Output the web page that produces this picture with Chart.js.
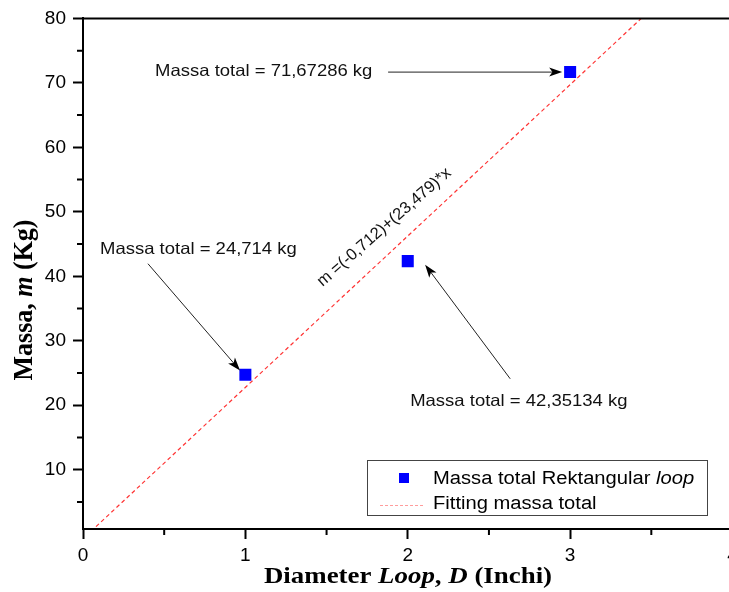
<!DOCTYPE html>
<html lang="id">
<head>
    <meta charset="UTF-8">
    <title>Massa total vs Diameter Loop</title>
    <style>
        html, body {
            margin: 0;
            padding: 0;
            background: white;
            overflow: hidden;
        }
        #wrap {
            width: 745px;
            height: 592px;
        }
    </style>
</head>
<body>
    <div id="wrap"><canvas id="massChart"></canvas></div>
    <script src="https://cdn.jsdelivr.net/npm/chart.js"></script>
    <script>
        // data
        const xTicks = [0, 1, 2, 3, 4];
        const yTicks = [10, 20, 30, 40, 50, 60, 70, 80];
        const diameter = [1, 2, 3];
        const massaTotal = [24.714, 42.35134, 71.67286];
        const fitX = [0.08, 3.438];
        const fitY = [1.17, 80];

        const SANS = '"Liberation Sans", Arial, sans-serif';
        const SERIF = '"Liberation Serif", "Times New Roman", serif';
        const SX = 1.12; // text in the figure is a bit wide

        // callouts, in data units
        const callouts = [
            { text: 'Massa total = 71,67286 kg', tx: 0.444, ty: 71.8, from: [1.879, 71.67], to: [2.951, 71.67] },
            { text: 'Massa total = 24,714 kg', tx: 0.105, ty: 44.1, from: [0.40, 41.95], to: [0.967, 25.4] },
            { text: 'Massa total = 42,35134 kg', tx: 2.015, ty: 20.6, from: [2.631, 24.1], to: [2.107, 41.8] }
        ];

        function drawParts(ctx, parts, x, y, align, sx) {
            // parts: [{t, font}] drawn on one baseline, widened by sx
            let w = 0;
            parts.forEach(p => { ctx.font = p.font; w += ctx.measureText(p.t).width; });
            ctx.save();
            ctx.translate(x, y);
            ctx.scale(sx || SX, 1);
            let cx = align === 'center' ? -w / 2 : 0;
            ctx.textBaseline = 'middle';
            ctx.textAlign = 'left';
            parts.forEach(p => {
                ctx.font = p.font;
                ctx.fillText(p.t, cx, 0);
                cx += ctx.measureText(p.t).width;
            });
            ctx.restore();
        }

        function arrow(ctx, x1, y1, x2, y2) {
            const a = Math.atan2(y2 - y1, x2 - x1);
            const len = 13, half = 4.5;
            ctx.save();
            ctx.strokeStyle = '#222';
            ctx.lineWidth = 1;
            ctx.beginPath();
            ctx.moveTo(x1, y1);
            ctx.lineTo(x2 - Math.cos(a) * len * 0.6, y2 - Math.sin(a) * len * 0.6);
            ctx.stroke();
            ctx.fillStyle = '#000';
            ctx.translate(x2, y2);
            ctx.rotate(a);
            ctx.beginPath();
            ctx.moveTo(0, 0);
            ctx.lineTo(-len, -half);
            ctx.lineTo(-len * 0.75, 0);
            ctx.lineTo(-len, half);
            ctx.closePath();
            ctx.fill();
            ctx.restore();
        }

        const extras = {
            id: 'extras',
            afterDraw(chart) {
                const ctx = chart.ctx;
                const area = chart.chartArea;
                const xs = chart.scales.x, ys = chart.scales.y;
                ctx.save();
                ctx.fillStyle = '#000';
                ctx.strokeStyle = '#000';

                // top frame
                ctx.lineWidth = 2;
                ctx.beginPath();
                ctx.moveTo(area.left - 1, area.top);
                ctx.lineTo(area.right + 1, area.top);
                ctx.moveTo(area.right, area.top);
                ctx.lineTo(area.right, area.bottom);
                ctx.stroke();

                // minor ticks
                ctx.beginPath();
                for (let i = 0; i < yTicks.length; i++) {
                    const py = ys.getPixelForValue(yTicks[i] - 5);
                    ctx.moveTo(area.left, py);
                    ctx.lineTo(area.left - 6, py);
                }
                for (let i = 0; i < xTicks.length - 1; i++) {
                    const px = xs.getPixelForValue(xTicks[i] + 0.5);
                    ctx.moveTo(px, area.bottom);
                    ctx.lineTo(px, area.bottom + 6);
                }
                ctx.stroke();

                // callouts
                ctx.fillStyle = '#111';
                callouts.forEach(c => {
                    drawParts(ctx, [{ t: c.text, font: '16.5px ' + SANS }],
                        xs.getPixelForValue(c.tx), ys.getPixelForValue(c.ty), 'left');
                    arrow(ctx, xs.getPixelForValue(c.from[0]), ys.getPixelForValue(c.from[1]),
                        xs.getPixelForValue(c.to[0]), ys.getPixelForValue(c.to[1]));
                });

                // fit equation along the line
                ctx.save();
                ctx.translate(xs.getPixelForValue(1.855), ys.getPixelForValue(47.6));
                ctx.rotate(-41 * Math.PI / 180);
                ctx.font = '16.5px ' + SANS;
                ctx.textAlign = 'center';
                ctx.textBaseline = 'middle';
                ctx.fillStyle = '#111';
                ctx.fillText('m =(-0,712)+(23,479)*x', 0, 0);
                ctx.restore();

                // legend
                const ds = chart.data.datasets;
                const lx = 367, ly = 460, lw = 340, lh = 55;
                ctx.lineWidth = 1;
                ctx.strokeStyle = '#444';
                ctx.strokeRect(lx + 0.5, ly + 0.5, lw, lh);
                ctx.fillStyle = ds[0].backgroundColor;
                ctx.fillRect(399, 473, 10, 10);
                ctx.save();
                ctx.strokeStyle = 'rgba(255, 90, 90, 0.6)';
                ctx.setLineDash([3, 2]);
                ctx.beginPath();
                ctx.moveTo(380, 505.5);
                ctx.lineTo(425, 505.5);
                ctx.stroke();
                ctx.restore();
                ctx.fillStyle = '#000';
                drawParts(ctx, [
                    { t: 'Massa total Rektangular ', font: '18px ' + SANS },
                    { t: 'loop', font: 'italic 18px ' + SANS }
                ], 433, 479, 'left');
                drawParts(ctx, [{ t: ds[1].label, font: '18px ' + SANS }], 433, 504, 'left');

                // axis titles
                drawParts(ctx, [
                    { t: 'Diameter ', font: 'bold 24px ' + SERIF },
                    { t: 'Loop', font: 'bold italic 24px ' + SERIF },
                    { t: ', ', font: 'bold 24px ' + SERIF },
                    { t: 'D', font: 'bold italic 24px ' + SERIF },
                    { t: ' (Inchi)', font: 'bold 24px ' + SERIF }
                ], 408, 577, 'center');

                ctx.save();
                ctx.translate(25, 300);
                ctx.rotate(-Math.PI / 2);
                ctx.scale(1, 1.05);
                const yParts = [
                    { t: 'Massa, ', font: 'bold 26px ' + SERIF },
                    { t: 'm', font: 'bold italic 26px ' + SERIF },
                    { t: ' (Kg)', font: 'bold 26px ' + SERIF }
                ];
                let w = 0;
                yParts.forEach(p => { ctx.font = p.font; w += ctx.measureText(p.t).width; });
                let cx = -w / 2;
                ctx.textBaseline = 'middle';
                ctx.textAlign = 'left';
                yParts.forEach(p => {
                    ctx.font = p.font;
                    ctx.fillText(p.t, cx, 0);
                    cx += ctx.measureText(p.t).width;
                });
                ctx.restore();

                ctx.restore();
            }
        };

        const axisCommon = {
            type: 'linear',
            ticks: {
                color: '#000',
                font: { family: SANS, size: 19 },
                autoSkip: false,
                maxRotation: 0
            },
            grid: {
                drawOnChartArea: false,
                color: '#000',
                tickLength: 10,
                tickWidth: 2
            },
            border: { color: '#000', width: 2 }
        };

        new Chart(document.getElementById('massChart'), {
            type: 'scatter',
            data: {
                datasets: [
                    {
                        label: 'Massa total Rektangular loop',
                        data: diameter.map((d, i) => ({ x: d, y: massaTotal[i] })),
                        pointStyle: 'rect',
                        pointRadius: 8.5,
                        pointHoverRadius: 8.5,
                        backgroundColor: '#0000ff',
                        borderColor: '#0000ff',
                        borderWidth: 0
                    },
                    {
                        label: 'Fitting massa total',
                        type: 'line',
                        data: fitX.map((x, i) => ({ x: x, y: fitY[i] })),
                        borderColor: 'rgba(255, 0, 0, 0.8)',
                        borderWidth: 1.2,
                        borderDash: [4, 3],
                        pointRadius: 0,
                        fill: false
                    }
                ]
            },
            options: {
                responsive: true,
                maintainAspectRatio: false,
                animation: false,
                layout: { padding: { top: 18, right: 12.5, left: 0, bottom: 0 } },
                plugins: {
                    legend: { display: false },
                    tooltip: { enabled: false }
                },
                scales: {
                    x: Object.assign({}, axisCommon, {
                        min: 0,
                        max: 4,
                        ticks: Object.assign({}, axisCommon.ticks, { padding: 5 }),
                        afterBuildTicks: s => { s.ticks = xTicks.map(v => ({ value: v })); },
                        afterFit: s => { s.height = 63; }
                    }),
                    y: Object.assign({}, axisCommon, {
                        min: 0.8,
                        max: 80,
                        ticks: Object.assign({}, axisCommon.ticks, { padding: 7 }),
                        afterBuildTicks: s => { s.ticks = yTicks.map(v => ({ value: v })); },
                        afterFit: s => { s.width = 83; }
                    })
                }
            },
            plugins: [extras]
        });
    </script>
</body>
</html>
